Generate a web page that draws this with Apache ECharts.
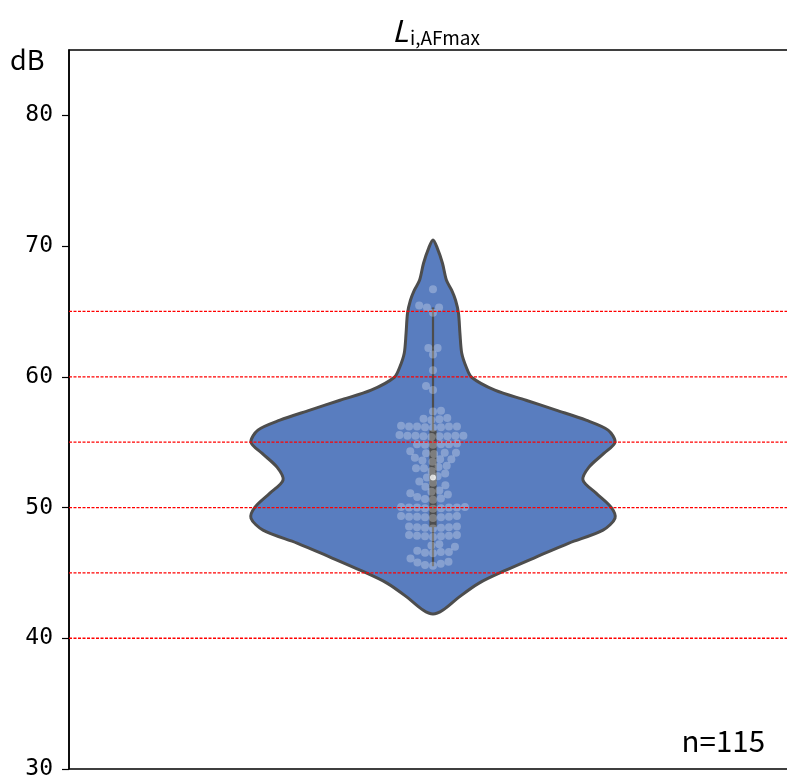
<!DOCTYPE html>
<html><head><meta charset="utf-8">
<script src="https://cdn.jsdelivr.net/npm/echarts@6/dist/echarts.min.js"></script>
<style>html,body{margin:0;padding:0;background:#fff}#c{width:787px;height:775px}</style>
</head><body><div id="c"></div>
<script>
// ---- data ----
const yMin = 30, yMax = 85, yInterval = 10;
const yTickValues = [30, 40, 50, 60, 70, 80];
const refLines = [40, 45, 50, 55, 60, 65];
// violin outline: value (dB) and relative density (half width)
const violinY = [70.47, 69.9, 68.69, 67.38, 66.62, 65.86, 64.86, 63.33, 61.80, 60.73, 59.97, 58.98, 58.21, 57.45, 56.68, 55.92, 55.00, 54.16, 53.09, 52.10, 51.10, 50.03, 49.19, 48.27, 47.28, 46.21, 45.21, 44.22, 43.15, 42.16, 41.85];
const violinW = [0, 0.022, 0.052, 0.074, 0.103, 0.124, 0.140, 0.148, 0.158, 0.183, 0.212, 0.34, 0.511, 0.676, 0.841, 0.962, 1.0, 0.940, 0.857, 0.824, 0.896, 0.978, 1.0, 0.934, 0.747, 0.566, 0.401, 0.253, 0.143, 0.055, 0];
const quartiles = [48.5, 52.3, 55.9];
const whiskers = [45.5, 65.3];
const swarmValues = [
  66.7, 65.45, 65.3, 65.3, 64.9, 62.2, 62.2, 61.7, 60.5, 59.3, 59.0,
  57.4, 57.35,
  56.85, 56.8, 56.75, 56.7,
  56.25, 56.2, 56.2, 56.2, 56.2, 56.15, 56.15, 56.1,
  55.55, 55.5, 55.5, 55.5, 55.5, 55.45, 55.45, 55.45, 55.4,
  54.9, 54.85, 54.85, 54.85, 54.8, 54.8,
  54.3, 54.2, 54.2, 54.15, 54.1,
  53.8, 53.7, 53.7, 53.6, 53.5,
  53.2, 53.1, 53.0, 53.0,
  52.8, 52.6, 52.4,
  52.3,
  52.0, 51.9, 51.7, 51.6,
  51.3, 51.2, 51.1, 51.0,
  50.8, 50.7, 50.65, 50.6,
  50.05, 50.05, 50.0, 50.0, 50.0, 50.0, 49.95, 49.95, 49.9,
  49.35, 49.35, 49.3, 49.3, 49.3, 49.25, 49.25, 49.2,
  48.55, 48.55, 48.5, 48.5, 48.45, 48.45, 48.4,
  47.9, 47.9, 47.85, 47.85, 47.8, 47.8, 47.75,
  47.2, 47.1, 47.0,
  46.7, 46.6, 46.6, 46.55, 46.5,
  46.1,
  45.85, 45.8, 45.7, 45.6, 45.55
];

// ---- styles ----
const VIOLIN_FILL = '#597dbf';
const LINE_GRAY = '#4d4d4d';
const PT_SIZE = 8;
const FONT_CJK = '"Noto Sans CJK JP", "Noto Sans", sans-serif';

const chart = echarts.init(document.getElementById('c'), null, {renderer: 'canvas'});

const option = {
  animation: false,
  backgroundColor: '#fff',
  grid: {left: 69, right: -10, top: 50, bottom: 6, show: true, borderColor: '#000', borderWidth: 1.5, outerBoundsMode: 'none', containLabel: false},
  xAxis: {type: 'value', min: -2, max: 2, axisLine: {show: false}, axisTick: {show: false}, axisLabel: {show: false}, splitLine: {show: false}},
  yAxis: {
    type: 'value', min: yMin, max: yMax, interval: yInterval,
    axisLine: {show: true, onZero: false, lineStyle: {color: '#000', width: 1.5}},
    axisTick: {show: true, length: 7, lineStyle: {color: '#000', width: 1.2}, customValues: yTickValues},
    axisLabel: {show: true, customValues: yTickValues, color: '#000', fontFamily: '"DejaVu Sans Mono", monospace', fontSize: 23, margin: 16},
    splitLine: {show: false}
  },
  series: [
    {
      type: 'custom', z: 1, silent: true, clip: false,
      data: violinY.map((v, i) => [violinW[i], v]),
      encode: {x: 0, y: 1},
      renderItem: function (params, api) {
        if (params.dataIndex !== 0) return null;
        const pts = [];
        for (let i = 0; i < violinY.length; i++) pts.push(api.coord([violinW[i], violinY[i]]));
        for (let i = violinY.length - 2; i >= 1; i--) pts.push(api.coord([-violinW[i], violinY[i]]));
        return {type: 'polygon', shape: {points: pts, smooth: 0.3},
          style: {fill: VIOLIN_FILL, stroke: LINE_GRAY, lineWidth: 3, lineJoin: 'round'}};
      }
    },
    {
      type: 'custom', z: 2, silent: true,
      data: [[0, quartiles[1]]],
      encode: {x: 0, y: 1},
      renderItem: function (params, api) {
        const wTop = api.coord([0, whiskers[1]]);
        const wBot = api.coord([0, whiskers[0]]);
        const q3 = api.coord([0, quartiles[2]]);
        const q1 = api.coord([0, quartiles[0]]);
        return {type: 'group', children: [
          {type: 'line', shape: {x1: wTop[0], y1: wTop[1], x2: wBot[0], y2: wBot[1]}, style: {stroke: LINE_GRAY, lineWidth: 2.2}},
          {type: 'rect', shape: {x: q3[0] - 3.6, y: q3[1], width: 7.2, height: q1[1] - q3[1]}, style: {fill: LINE_GRAY}}
        ]};
      }
    },
    {
      id: 'swarm', type: 'scatter', z: 3, silent: true,
      symbol: 'circle', symbolSize: PT_SIZE,
      itemStyle: {color: 'rgba(255,255,255,0.34)'},
      data: []
    },
    {
      type: 'scatter', z: 4, silent: true, symbol: 'circle', symbolSize: 6,
      itemStyle: {color: '#fff'},
      data: [[0, quartiles[1]]]
    },
    {
      type: 'custom', z: 5, silent: true, clip: false,
      data: refLines.map(v => [0, v]),
      encode: {x: 0, y: 1},
      renderItem: function (params, api) {
        const v = api.value(1);
        const a = api.coord([-2, v]);
        const b = api.coord([2, v]);
        return {type: 'line', shape: {x1: a[0], y1: a[1], x2: b[0], y2: b[1]},
          style: {stroke: '#ff0000', lineWidth: 1.3, lineDash: [3, 1.5]}};
      }
    }
  ],
  graphic: [
    {type: 'text', x: 392, y: 16, z: 10, style: {text: 'L', fontFamily: FONT_CJK, fontStyle: 'italic', fontSize: 30, fill: '#000'}},
    {type: 'text', x: 410, y: 28, z: 10, style: {text: 'i,AFmax', fontFamily: FONT_CJK, fontSize: 19, fill: '#000'}},
    {type: 'text', x: 10, y: 46, z: 10, style: {text: 'dB', fontFamily: FONT_CJK, fontSize: 27, fill: '#000'}},
    {type: 'text', x: 765, y: 726, z: 10, style: {text: 'n=' + swarmValues.length, fontFamily: FONT_CJK, fontSize: 29.5, fill: '#000', align: 'right'}}
  ]
};
chart.setOption(option);

// beeswarm layout computed in pixel space through the axis scales
function layoutSwarm() {
  const d = PT_SIZE;
  const cx = chart.convertToPixel({xAxisIndex: 0}, 0);
  const pts = swarmValues.map(v => ({v: v, y: chart.convertToPixel({yAxisIndex: 0}, v), x: null}));
  pts.sort((a, b) => b.y - a.y); // lowest value first
  const placed = [];
  pts.forEach(p => {
    const near = placed.filter(q => Math.abs(q.y - p.y) < d);
    const cands = [cx];
    near.forEach(q => {
      const dx = Math.sqrt(Math.max(0, d * d - (q.y - p.y) * (q.y - p.y)));
      cands.push(q.x - dx, q.x + dx);
    });
    cands.sort((a, b) => Math.abs(a - cx) - Math.abs(b - cx));
    let chosen = cands[cands.length - 1];
    for (const c of cands) {
      let ok = true;
      for (const q of near) {
        const dd = (q.x - c) * (q.x - c) + (q.y - p.y) * (q.y - p.y);
        if (dd < d * d - 0.01) { ok = false; break; }
      }
      if (ok) { chosen = c; break; }
    }
    p.x = chosen;
    placed.push(p);
  });
  const data = placed.map(p => [chart.convertFromPixel({xAxisIndex: 0}, p.x), p.v]);
  chart.setOption({series: [{id: 'swarm', data: data}]});
}
layoutSwarm();
</script>
</body></html>
